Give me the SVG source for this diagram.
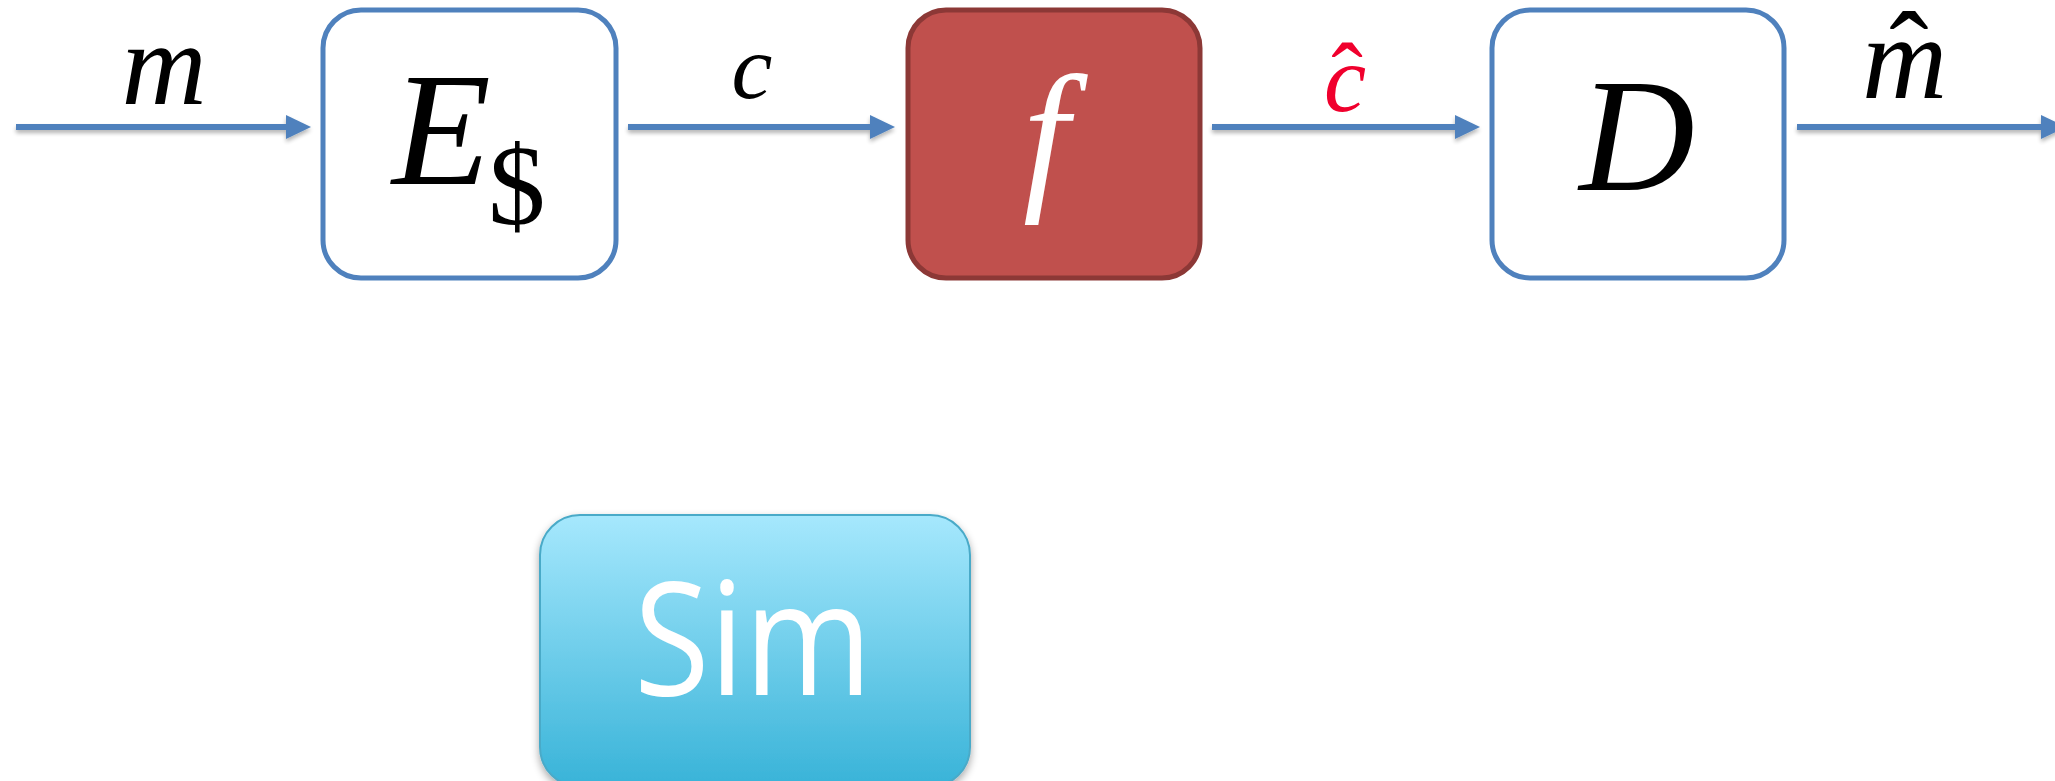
<svg xmlns="http://www.w3.org/2000/svg" width="2055" height="781" viewBox="0 0 2055 781">
<style>
.box{fill:#ffffff;stroke:#4F81BD;stroke-width:5}
.boxred{fill:#C0504D;stroke:#8C3836;stroke-width:5}
.conn{stroke:#4F81BD;stroke-width:6;fill:none;marker-end:url(#ah)}
.math{font-family:"Liberation Serif","Times New Roman",serif;font-style:italic;fill:#000}
.sym{font-family:"Liberation Serif","Times New Roman",serif;font-style:normal}
.sim{font-family:"Open Sans","Noto Sans",sans-serif;fill:#ffffff}
</style>
<defs>
<marker id="ah" viewBox="0 0 25 24" markerWidth="25" markerHeight="24" markerUnits="userSpaceOnUse" refX="2" refY="12" orient="auto">
<path d="M0,0 L25,12 L0,24 Z" fill="#4F81BD"/>
</marker>
<filter id="sh" filterUnits="userSpaceOnUse" x="0" y="0" width="2055" height="781">
<feGaussianBlur in="SourceAlpha" stdDeviation="2"/>
<feOffset dx="0" dy="3" result="b"/>
<feComponentTransfer><feFuncA type="linear" slope="0.3"/></feComponentTransfer>
<feMerge><feMergeNode/><feMergeNode in="SourceGraphic"/></feMerge>
</filter>
<filter id="sh2" x="-10%" y="-10%" width="120%" height="130%">
<feGaussianBlur in="SourceAlpha" stdDeviation="4"/>
<feOffset dx="0" dy="4" result="b"/>
<feComponentTransfer><feFuncA type="linear" slope="0.35"/></feComponentTransfer>
<feMerge><feMergeNode/><feMergeNode in="SourceGraphic"/></feMerge>
</filter>
<linearGradient id="simg" x1="0" y1="0" x2="0" y2="1">
<stop offset="0" stop-color="#A6E8FD"/>
<stop offset="1" stop-color="#38B3D8"/>
</linearGradient>
</defs>

<g id="connectors">
<g filter="url(#sh)">
<line class="conn" x1="16" y1="127" x2="288" y2="127"/>
<line class="conn" x1="628" y1="127" x2="872" y2="127"/>
<line class="conn" x1="1212" y1="127" x2="1457" y2="127"/>
<line class="conn" x1="1797" y1="127" x2="2043" y2="127"/>
</g>
<text class="math" x="164" y="104" font-size="118" text-anchor="middle">m</text>
<text class="math" x="752" y="98" font-size="92" text-anchor="middle">c</text>
<text class="math" x="1324" y="111" font-size="95" style="fill:#F0002D">c<tspan class="sym" dx="-35" dy="-2">ˆ</tspan></text>
<text class="math" x="1862" y="98" font-size="118">m<tspan class="sym" dx="-58" dy="-4">ˆ</tspan></text>
</g>

<g id="node-E">
<rect class="box" x="323" y="10" width="293" height="268" rx="38" ry="38"/>
<text class="math" x="392" y="184" font-size="162">E</text>
<text class="sym" x="488" y="224" font-size="115" fill="#000">$</text>
</g>

<g id="node-f">
<rect class="boxred" x="908" y="10" width="292" height="268" rx="38" ry="38"/>
<text class="math" x="1046" y="190" font-size="165" text-anchor="middle" style="fill:#ffffff">f</text>
</g>

<g id="node-D">
<rect class="box" x="1492" y="10" width="292" height="268" rx="38" ry="38"/>
<text class="math" x="1637" y="190" font-size="160" text-anchor="middle">D</text>
</g>

<g id="node-Sim">
<rect x="540" y="515" width="430" height="272" rx="40" ry="40" fill="url(#simg)" stroke="#4AAAC8" stroke-width="2" filter="url(#sh2)"/>
<text class="sim" x="753" y="695" font-size="158" text-anchor="middle" textLength="238" lengthAdjust="spacingAndGlyphs">Sim</text>
</g>
</svg>
